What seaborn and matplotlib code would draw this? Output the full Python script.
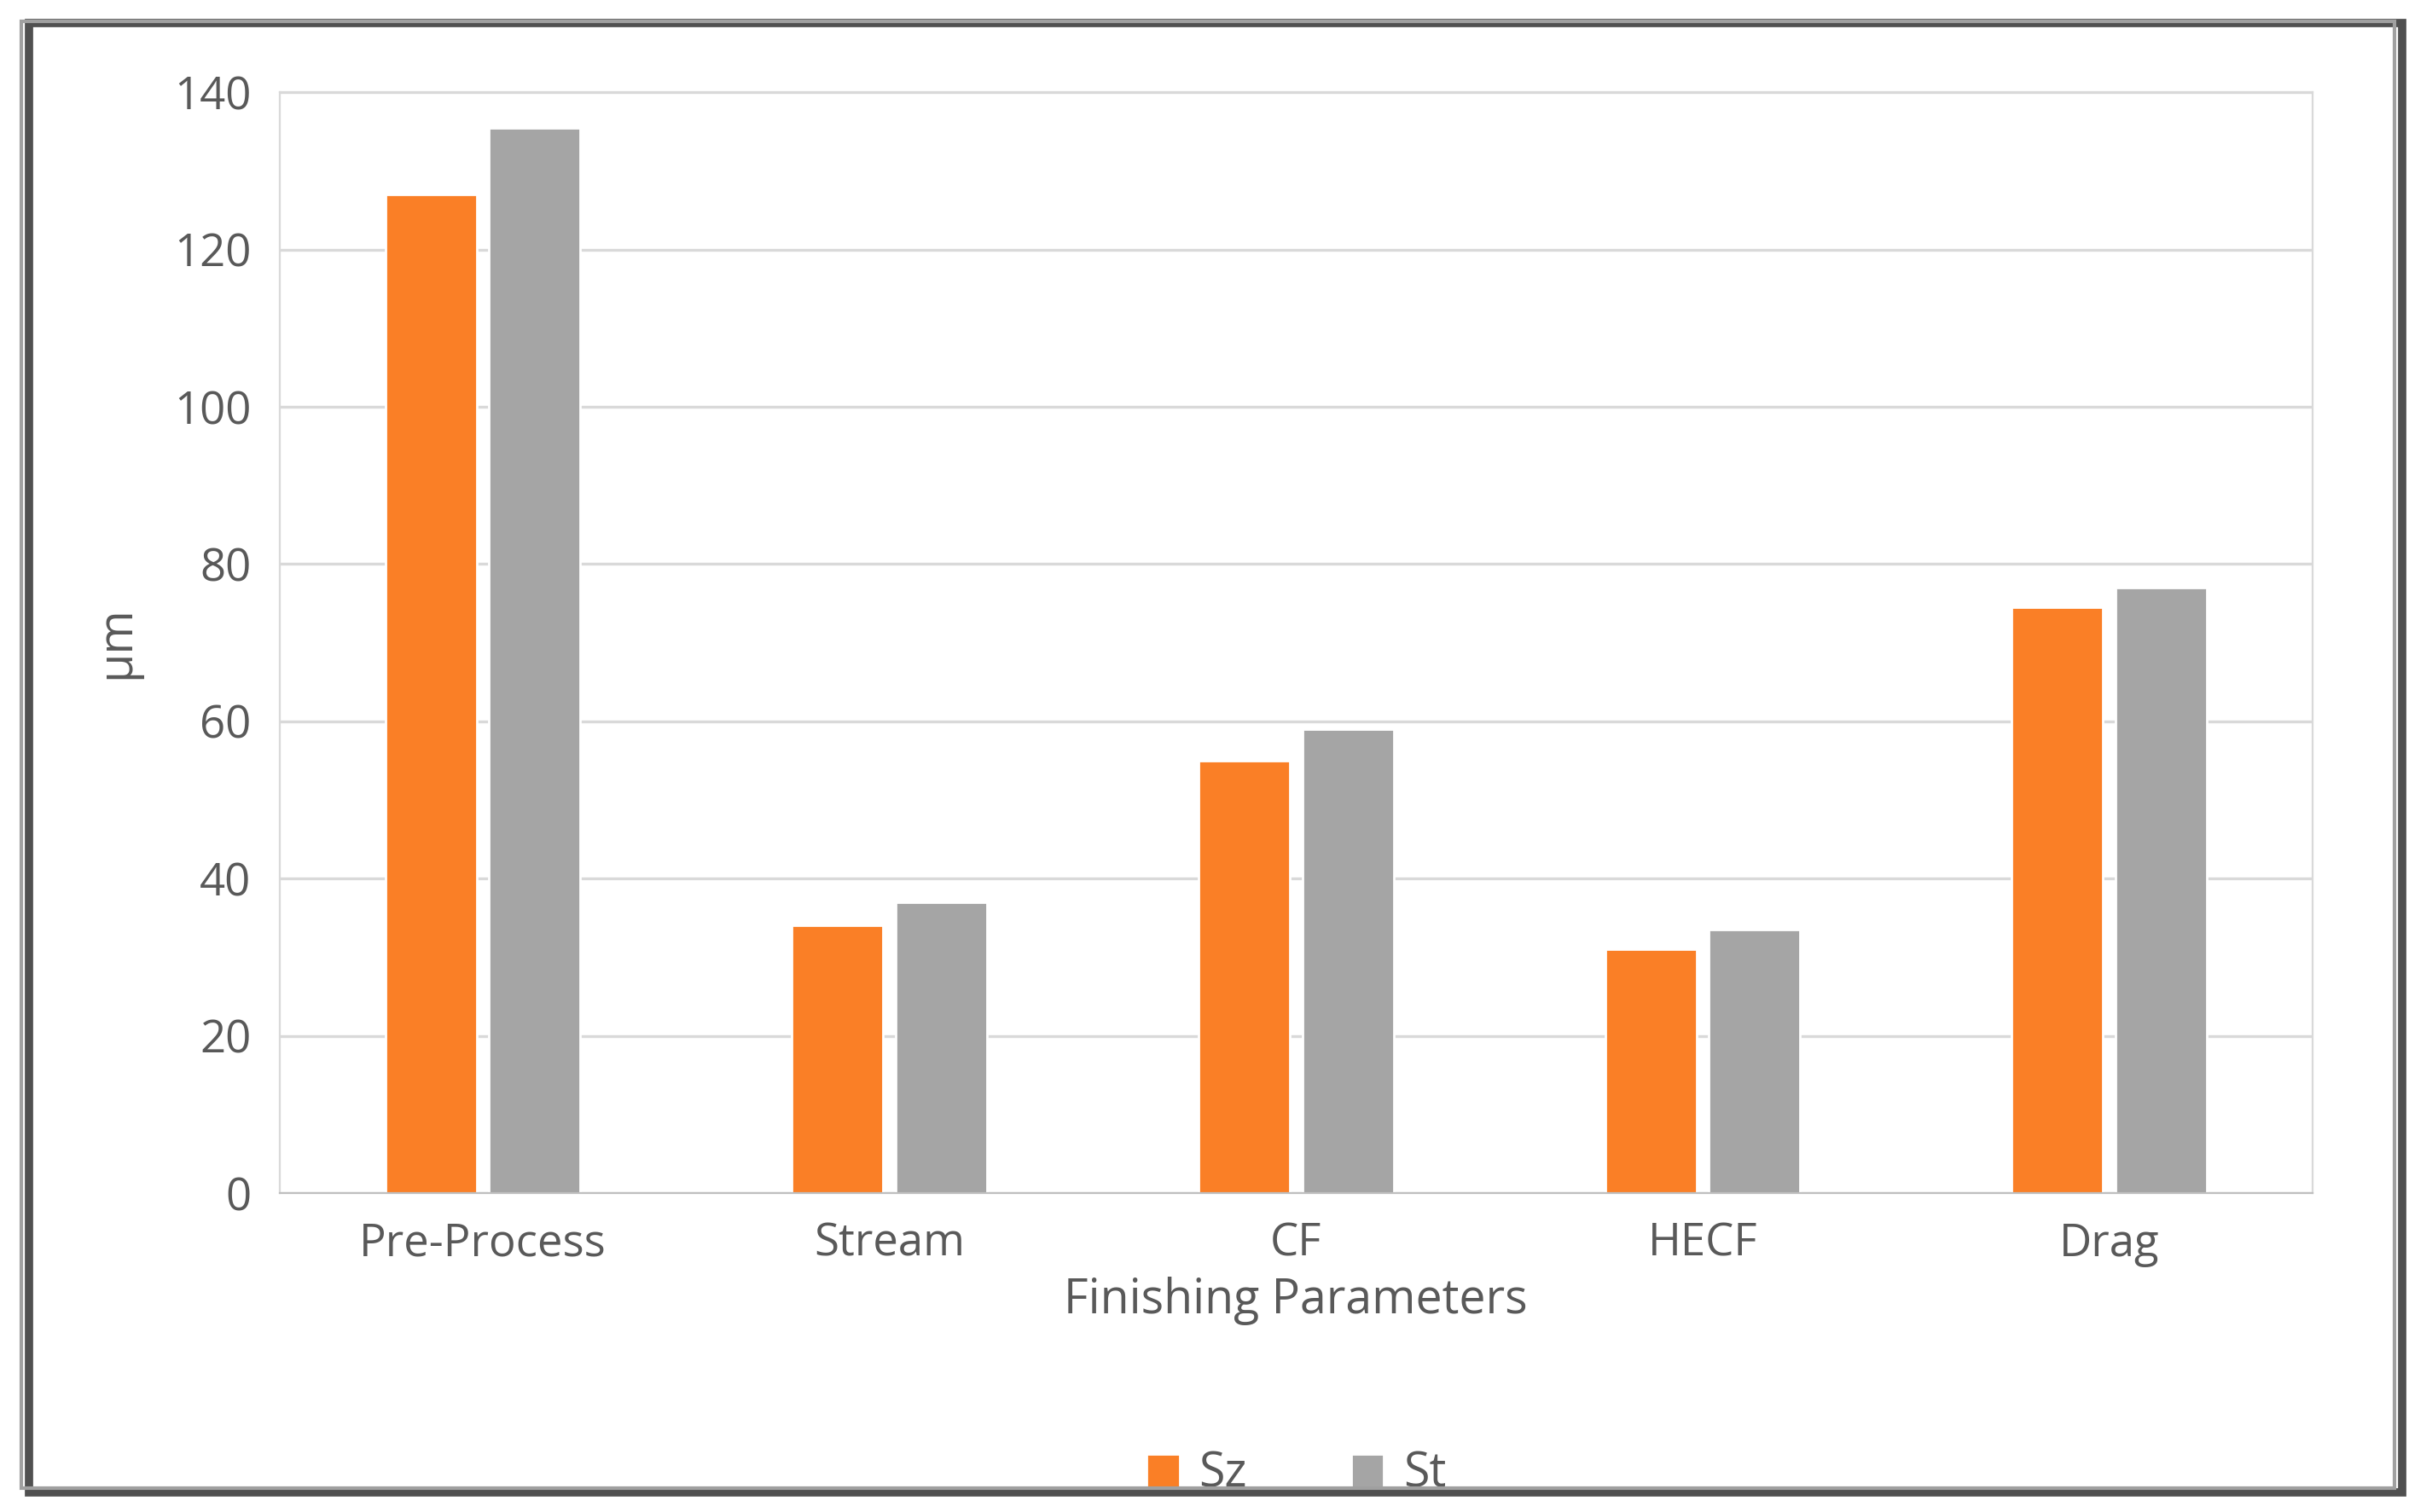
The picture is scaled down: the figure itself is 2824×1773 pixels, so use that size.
import pandas as pd
import matplotlib.pyplot as plt
import seaborn as sns
from matplotlib.patches import Rectangle

categories = ["Pre-Process", "Stream", "CF", "HECF", "Drag"]
sz_values = [127, 34, 55, 31, 74.5]
st_values = [135.5, 37, 59, 33.5, 77]
series = ["Sz", "St"]
colors = ["#FA7F26", "#A5A5A5"]

df = pd.DataFrame({
    "cat": categories * 2,
    "val": sz_values + st_values,
    "series": [series[0]] * 5 + [series[1]] * 5,
})

sns.set_style("white")
plt.rcParams['font.family'] = ['Open Sans', 'DejaVu Sans']
txt = "#595959"

fig = plt.figure(figsize=(14.12, 8.865), dpi=200)
ax = fig.add_axes([0.116, 0.211, 0.844, 0.728])
sns.barplot(data=df, x="cat", y="val", hue="series", palette=colors,
            width=0.51, gap=0.12, ax=ax, saturation=1, legend=True)

ax.set_ylim(0, 140)
ax.set_yticks(range(0, 141, 20))
ax.grid(axis="y", color="#D9D9D9", lw=1.2)
ax.set_axisbelow(True)
for s in ["top", "right", "left"]:
    ax.spines[s].set_color("#D9D9D9")
ax.spines["bottom"].set_color("#BFBFBF")
ax.tick_params(axis="both", colors=txt, labelsize=19, length=0, pad=12)
ax.set_xlabel("Finishing Parameters", fontsize=20, color=txt, labelpad=4)
ax.set_ylabel("µm", fontsize=20, color=txt, labelpad=14)

h, l = ax.get_legend_handles_labels()
ax.legend(h, l, loc="upper center", bbox_to_anchor=(0.5, -0.195), ncol=2,
          frameon=False, fontsize=20, labelcolor=txt, handlelength=0.7,
          handleheight=0.7, handletextpad=0.4, columnspacing=2.2)

# outer frame with shadow
fig.patches.append(Rectangle((0.012, 0.013), 0.985, 0.972, transform=fig.transFigure,
                             fill=False, ec="#505050", lw=3.5))
fig.patches.append(Rectangle((0.009, 0.016), 0.985, 0.97, transform=fig.transFigure,
                             fill=False, ec="#A0A0A0", lw=1.5))

plt.savefig("out.png", dpi=200)
